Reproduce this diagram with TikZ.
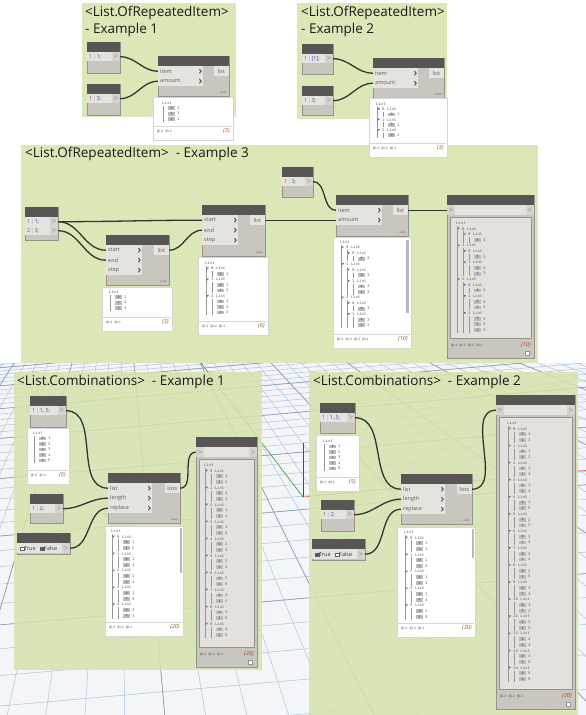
\documentclass[tikz,border=0pt]{standalone}
\usepackage{fontspec}
\setmainfont{Open Sans}
\newfontfamily\pvfont{Liberation Mono}
\usetikzlibrary{arrows,positioning,calc}

\definecolor{headgray}{RGB}{88,86,84}
\definecolor{bodygray}{RGB}{201,197,191}
\definecolor{rowgray}{RGB}{229,227,223}
\definecolor{portgray}{RGB}{214,211,206}
\definecolor{edgegray}{RGB}{150,146,140}
\definecolor{wirecol}{RGB}{52,52,52}
\definecolor{groupgreen}{RGB}{214,227,172}
\definecolor{titlecol}{RGB}{25,25,25}
\definecolor{floorcol}{RGB}{243,245,248}
\definecolor{gridblue}{RGB}{172,198,220}
\definecolor{gridmajor}{RGB}{135,155,178}
\definecolor{pvborder}{RGB}{214,214,214}
\definecolor{idxgray}{RGB}{188,188,188}
\definecolor{txtgray}{RGB}{95,95,95}
\definecolor{darktxt}{RGB}{60,60,60}
\definecolor{pvguidecol}{RGB}{150,150,150}
\definecolor{listblue}{RGB}{70,120,190}
\definecolor{codeblue}{RGB}{40,90,190}
\definecolor{numgray}{RGB}{110,110,110}
\definecolor{sepgray}{RGB}{170,170,170}
\definecolor{countbrown}{RGB}{150,85,40}
\definecolor{watchcol}{RGB}{228,225,220}
\definecolor{scrollgray}{RGB}{185,185,185}
\definecolor{axisred}{RGB}{230,110,80}
\definecolor{axisgreen}{RGB}{70,160,60}
\definecolor{axisblue}{RGB}{60,60,220}

% code line: number | code
\newcommand{\cl}[2]{{\color{numgray}#1}\hspace{0.6pt}{\color{sepgray}|}\hspace{0.6pt}{\color{codeblue}#2}}

% code block: name, x, y, width, height, lines
\newcommand{\codeblock}[6]{%
  \node[dbody, minimum width=#4, minimum height=#5] (#1) at (#2,#3) {};
  \node[dhead, minimum width=#4] (#1-h) at (#2,#3) {};
  \foreach \c [count=\i] in {#6}{
    \node[coderow, minimum width=#4-8] (#1-\i) at (#2,{#3+1+9*\i}) {};
    \node[codetxt] (#1-\i t) at ([xshift=2]#1-\i.west) {\c};
    \node[portbox] (#1-\i o) at ({#2+#4},{#3+1+9*\i}) {$>$};
  }}

% function node: name, x, y, width, height, row width, inputs, output
\newcommand{\funcnode}[8]{%
  \node[dbody, minimum width=#4, minimum height=#5] (#1) at (#2,#3) {};
  \node[dhead, minimum width=#4] (#1-h) at (#2,#3) {};
  \foreach \p [count=\i] in {#7}{
    \node[inrow, minimum width=#6] (#1-\i) at (#2,{#3+10*\i}) {};
    \node[intxt] (#1-\i t) at ([xshift=2]#1-\i.west) {\p};
    \draw[chev] ([xshift=-4,yshift=2]#1-\i.east) -- ++(1.8,2) -- ++(-1.8,2);
  }
  \node[outrow] (#1-o) at ({#2+#4},{#3+10}) {#8};
  \node[autotxt] (#1-a) at ({#2+#4-2},{#3+#5-2}) {auto};}

% boolean: name, x, y, fill of True, fill of False
\newcommand{\boolnode}[5]{%
  \node[dbody, minimum width=53, minimum height=21] (#1) at (#2,#3) {};
  \node[dhead, minimum width=53] (#1-h) at (#2,#3) {};
  \node[coderow, minimum width=45, minimum height=10] (#1-r) at (#2,{#3+10}) {};
  \node[radio, fill=#4] (#1-rt) at ({#2+5},{#3+15.5}) {};
  \node[intxt, text=darktxt] (#1-t) at ({#2+7},{#3+15.5}) {True};
  \node[radio, fill=#5] (#1-rf) at ({#2+25},{#3+15.5}) {};
  \node[intxt, text=darktxt] (#1-f) at ({#2+27},{#3+15.5}) {False};
  \node[portbox, minimum height=10] (#1-o) at ({#2+53},{#3+10}) {$>$};}

% watch: name, x, y, width, height, levels, count
\newcommand{\watchnode}[7]{%
  \node[dbody, minimum width=#4, minimum height=#5] (#1) at (#2,#3) {};
  \node[dhead, minimum width=#4] (#1-h) at (#2,#3) {};
  \node[coderow, minimum width=#4, minimum height=10] (#1-r) at (#2,{#3+10}) {};
  \node[portbox, anchor=north west, minimum height=10] (#1-i) at (#2,{#3+10}) {$>$};
  \node[portbox, minimum height=10] (#1-o) at ({#2+#4},{#3+10}) {$>$};
  \node[watchin, minimum width=#4-6, minimum height=#5-42] (#1-c) at ({#2+3},{#3+22}) {};
  \node[foottxt] (#1-f) at ({#2+4},{#3+#5-13}) {#6};
  \node[counttxt] (#1-n) at ({#2+#4-3},{#3+#5-13}) {#7};
  \node[cornersq] (#1-s) at ({#2+#4-7},{#3+#5-5}) {};}

% preview bubble: name, x, y, width, height, levels, count
\newcommand{\pvbox}[7]{%
  \node[pvbg, minimum width=#4, minimum height=#5] (#1) at (#2,#3) {};
  \draw[pvsep] ({#2+1},{#3+#5-14}) -- ({#2+#4-1},{#3+#5-14});
  \node[foottxt] (#1-f) at ({#2+4},{#3+#5-9}) {#6};
  \node[counttxt] (#1-n) at ({#2+#4-3},{#3+#5-9}) {#7};}

% list rows
\newcount\pvrow
\newcommand{\pvstart}[4]{\gdef\pvname{#1}\gdef\pvx{#2}\gdef\pvy{#3}\gdef\pvdy{#4}\global\pvrow=0\relax}
\newcommand{\pvguide}[1]{\ifnum#1>0 \foreach \k in {1,...,#1}{\draw[pvline] ({\pvx+(\k-1)*6+1},{\pvy+(\the\pvrow-0.5)*\pvdy}) -- ++(0,\pvdy);}\fi}
\newcommand{\pvroot}{\node[pvtxt] (\pvname-0) at (\pvx,\pvy) {List};\global\pvrow=1\relax}
\newcommand{\pvL}[2]{\pvguide{#1}%
  \fill[listblue] ({\pvx+#1*6-4.5},{\pvy+\the\pvrow*\pvdy-1}) -- ++(2.4,0) -- ++(-1.2,2) -- cycle;
  \node[pvtxt] (\pvname-\the\pvrow) at ({\pvx+#1*6},{\pvy+\the\pvrow*\pvdy}) {#2 List};%
  \global\advance\pvrow by 1\relax}
\newcommand{\pvV}[3]{\pvguide{#1}%
  \node[pvidx] (\pvname-\the\pvrow) at ({\pvx+#1*6},{\pvy+\the\pvrow*\pvdy}) {#2};
  \node[pvtxt] (\pvname-\the\pvrow v) at ({\pvx+#1*6+9},{\pvy+\the\pvrow*\pvdy}) {#3};%
  \global\advance\pvrow by 1\relax}

\begin{document}
\begin{tikzpicture}[x=1pt,y=-1pt,
  group/.style={fill=groupgreen, fill opacity=0.85, anchor=north west, inner sep=0},
  gtitle/.style={anchor=north west, inner sep=0, align=left, text=titlecol, font=\fontsize{13.5}{17}\selectfont},
  dbody/.style={fill=bodygray, draw=edgegray, line width=0.5pt, anchor=north west, inner sep=0},
  dhead/.style={fill=headgray, anchor=north west, inner sep=0, minimum height=10},
  coderow/.style={fill=rowgray, anchor=north west, inner sep=0, minimum height=9},
  inrow/.style={fill=rowgray, anchor=north west, inner sep=0, minimum height=10},
  portbox/.style={fill=portgray, anchor=north east, inner sep=0, minimum width=8, minimum height=9, text=txtgray, font=\fontsize{5}{5}\selectfont},
  codetxt/.style={anchor=west, inner sep=0, font=\fontsize{5.5}{6}\selectfont},
  intxt/.style={anchor=west, inner sep=0, text=txtgray, font=\fontsize{5.5}{6}\selectfont},
  outrow/.style={fill=rowgray, anchor=north east, inner sep=0, minimum width=15, minimum height=10, text=txtgray, font=\fontsize{5.5}{6}\selectfont},
  autotxt/.style={anchor=south east, inner sep=0, text=txtgray, font=\fontsize{3}{3}\selectfont},
  chev/.style={draw=headgray, line width=1pt},
  wire/.style={draw=wirecol, line width=1.3pt},
  pvbg/.style={fill=white, draw=pvborder, line width=0.5pt, anchor=north west, inner sep=0},
  pvsep/.style={draw=pvborder, line width=0.5pt},
  pvtxt/.style={anchor=west, inner sep=0, text=txtgray, font=\pvfont\fontsize{4}{4}\selectfont},
  pvidx/.style={anchor=west, inner sep=0.2, fill=idxgray, minimum width=7, minimum height=3.8, text=darktxt, font=\pvfont\fontsize{3.5}{3.5}\selectfont},
  pvline/.style={draw=pvguidecol, line width=0.5pt},
  foottxt/.style={anchor=west, inner sep=0, text=txtgray, font=\pvfont\fontsize{3.5}{4}\selectfont},
  counttxt/.style={anchor=east, inner sep=0, text=countbrown, font=\fontsize{5.5}{6}\selectfont\itshape},
  watchin/.style={fill=watchcol, draw=edgegray, line width=0.3pt, anchor=north west, inner sep=0},
  cornersq/.style={fill=white, draw=edgegray, line width=0.3pt, minimum size=4, inner sep=0},
  radio/.style={draw=txtgray, line width=0.3pt, minimum size=3.5, inner sep=0},
  scrollbar/.style={fill=scrollgray},
  gridln/.style={draw=gridblue, line width=0.5pt},
  gridmaj/.style={draw=gridmajor, line width=0.6pt}]
\useasboundingbox (0,0) rectangle (586,715);
\fill[white] (0,0) rectangle (586,715);

% floor grid
\begin{scope}
\clip (0,363) rectangle (586,715);
\fill[floorcol] (0,363) rectangle (586,715);
\begin{scope}[rotate around={5:(300,540)}]
\foreach \q in {11,12.325,...,95}
  \draw[gridln] (-300,{186+10000/\q}) -- (900,{186+10000/\q});
\foreach \k in {-30,...,50}
  \draw[gridln] ({150+\k*8.9},300) -- ({150+\k*63.5},1000);
\foreach \q in {11,17.625,...,95}
  \draw[gridmaj] (-300,{186+10000/\q}) -- (900,{186+10000/\q});
\foreach \k in {-30,-25,...,50}
  \draw[gridmaj] ({150+\k*8.9},300) -- ({150+\k*63.5},1000);
\end{scope}
\draw[axisgreen, line width=0.7pt] (303,497) -- (201,363);
\draw[axisred, line width=0.7pt] (303,497) -- (590,470);
\draw[axisblue, line width=0.7pt] (303,497) -- (303,443);
\end{scope}

% groups
\node[group, minimum width=154, minimum height=114] (g1) at (82,3) {};
\node[group, minimum width=150, minimum height=116] (g2) at (297,3) {};
\node[group, minimum width=517, minimum height=218] (g3) at (21,145) {};
\node[group, minimum width=248, minimum height=298] (g4) at (14,372) {};
\node[group, minimum width=269, minimum height=343] (g5) at (309,372) {};
\node[gtitle] (g1-t) at (85,6) {<List.OfRepeatedItem>\\- Example 1};
\node[gtitle] (g2-t) at (301,6) {<List.OfRepeatedItem>\\- Example 2};
\node[gtitle, anchor=base west] (g3-t) at (25,157) {<List.OfRepeatedItem>\ \ - Example 3};
\node[gtitle, anchor=base west] (g4-t) at (17,385) {<List.Combinations>\ \ - Example 1};
\node[gtitle, anchor=base west] (g5-t) at (313,385) {<List.Combinations>\ \ - Example 2};

% Example 1
\codeblock{a1}{87}{42}{33}{31}{{\cl{1}{1;}}}
\codeblock{a2}{87}{84}{33}{31}{{\cl{1}{3;}}}
\funcnode{ra}{158}{56}{71}{40}{45}{item,amount}{list}
\pvbox{pa}{153}{97}{80}{43}{@L2 @L1}{\{3\}}
\pvstart{pa}{162}{103}{5.3}\pvroot
\pvV{1}{0}{1}\pvV{1}{1}{1}\pvV{1}{2}{1}
\draw[wire] (a1-1o.east) to[out=0,in=180] (ra-1.west);
\draw[wire] (a2-1o.east) to[out=0,in=180] (ra-2.west);

% Example 2
\codeblock{b1}{302}{44}{31}{30}{{\cl{1}{[1];}}}
\codeblock{b2}{302}{86}{31}{29}{{\cl{1}{3;}}}
\funcnode{rb}{373}{58}{71}{40}{45}{item,amount}{list}
\pvbox{pb}{369}{98}{78}{59}{@L3 @L2 @L1}{\{3\}}
\pvstart{pb}{376}{104}{5.2}\pvroot
\pvL{1}{0}\pvV{2}{0}{1}\pvL{1}{1}\pvV{2}{0}{1}\pvL{1}{2}\pvV{2}{0}{1}
\draw[wire] (b1-1o.east) to[out=0,in=180] (rb-1.west);
\draw[wire] (b2-1o.east) to[out=0,in=180] (rb-2.west);

% Example 3
\codeblock{c1}{25}{207}{33}{33}{{\cl{1}{1;}},{\cl{2}{3;}}}
\funcnode{rg1}{106}{235}{63}{50}{36}{start,end,step}{list}
\pvbox{pc1}{102}{287}{70}{44}{@L2 @L1}{\{3\}}
\pvstart{pc1}{109}{292}{5.3}\pvroot
\pvV{1}{0}{1}\pvV{1}{1}{2}\pvV{1}{2}{3}
\funcnode{rg2}{202}{205}{63}{51}{36}{start,end,step}{list}
\pvbox{pc2}{198}{257}{70}{78}{@L3 @L2 @L1}{\{6\}}
\pvstart{pc2}{205}{263}{5.5}\pvroot
\pvL{1}{0}\pvV{2}{0}{1}
\pvL{1}{1}\pvV{2}{0}{1}\pvV{2}{1}{2}
\pvL{1}{2}\pvV{2}{0}{1}\pvV{2}{1}{2}\pvV{2}{2}{3}
\codeblock{c2}{282}{167}{31}{30}{{\cl{1}{3;}}}
\funcnode{rc}{336}{195}{72}{41}{46}{item,amount}{list}
\pvbox{pc3}{333}{237}{78}{111}{@L4 @L3 @L2 @L1}{\{10\}}
\fill[scrollbar] (406,240) rectangle (408.5,313);
\pvstart{pc3}{340}{242}{5.55}\pvroot
\pvL{1}{0}\pvL{2}{0}\pvV{3}{0}{3}
\pvL{1}{1}\pvL{2}{0}\pvV{3}{0}{3}\pvL{2}{1}\pvV{3}{0}{3}\pvV{3}{1}{3}
\pvL{1}{2}\pvL{2}{0}\pvV{3}{0}{3}\pvL{2}{1}\pvV{3}{0}{3}\pvV{3}{1}{3}
\watchnode{wc}{447}{195}{87}{163}{@L4 @L3 @L2 @L1}{\{10\}}
\pvstart{wc}{456}{223}{5.63}\pvroot
\pvL{1}{0}\pvL{2}{0}\pvV{3}{0}{3}
\pvL{1}{1}\pvL{2}{0}\pvV{3}{0}{3}\pvL{2}{1}\pvV{3}{0}{3}\pvV{3}{1}{3}
\pvL{1}{2}\pvL{2}{0}\pvV{3}{0}{3}\pvL{2}{1}\pvV{3}{0}{3}\pvV{3}{1}{3}
\pvL{2}{2}\pvV{3}{0}{3}\pvV{3}{1}{3}\pvV{3}{2}{3}
\draw[wire] (c1-1o.east) to[out=0,in=180] (rg2-1.west);
\draw[wire] (c1-1o.east) to[out=0,in=180] (rg1-1.west);
\draw[wire] (c1-2o.east) to[out=0,in=180] (rg1-2.west);
\draw[wire] (rg1-o.east) to[out=0,in=180] (rg2-2.west);
\draw[wire] (rg2-o.east) to[out=0,in=180] (rc-2.west);
\draw[wire] (c2-1o.east) to[out=0,in=180] (rc-1.west);
\draw[wire] (rc-o.east) to[out=0,in=180] (wc-i.west);

% Combinations 1
\codeblock{d1}{30}{396}{36}{31}{{\cl{1}{1..5;}}}
\pvbox{pd1}{27}{428}{42}{56}{@L2 @L1}{\{5\}}
\pvstart{pd1}{33}{433}{5.5}\pvroot
\foreach \v [count=\n from 0] in {1,...,5}{\pvV{1}{\n}{\v}}
\codeblock{d2}{30}{494}{33}{29}{{\cl{1}{2;}}}
\boolnode{d3}{17}{533}{white}{headgray}
\funcnode{cm1}{108}{473}{72}{50}{44}{list,length,replace}{lists}
\pvbox{pd2}{105}{526}{78}{110}{@L3 @L2 @L1}{\{20\}}
\fill[scrollbar] (179.5,528) rectangle (181.5,573);
\pvstart{pd2}{111}{531}{5.65}\pvroot
\foreach \a/\b [count=\n from 0] in {1/2,1/3,1/4,1/5,2/3}{\pvL{1}{\n}\pvV{2}{0}{\a}\pvV{2}{1}{\b}}
\watchnode{wd}{196}{437}{61}{230}{@L3 @L2 @L1}{\{20\}}
\pvstart{wd}{204}{465}{5.67}\pvroot
\foreach \a/\b [count=\n from 0] in {1/2,1/3,1/4,1/5,2/3,2/4,2/5,3/4,3/5,4/5}{\pvL{1}{\n}\pvV{2}{0}{\a}\pvV{2}{1}{\b}}
\draw[wire] (d1-1o.east) to[out=0,in=180] (cm1-1.west);
\draw[wire] (d2-1o.east) to[out=0,in=180] (cm1-2.west);
\draw[wire] (d3-o.east) to[out=0,in=180] (cm1-3.west);
\draw[wire] (cm1-o.east) to[out=0,in=180] (wd-i.west);

% Combinations 2
\codeblock{e1}{320}{403}{35}{30}{{\cl{1}{1..5;}}}
\pvbox{pe1}{316}{435}{43}{56}{@L2 @L1}{\{5\}}
\pvstart{pe1}{323}{441}{5.5}\pvroot
\foreach \v [count=\n from 0] in {1,...,5}{\pvV{1}{\n}{\v}}
\codeblock{e2}{321}{500}{33}{31}{{\cl{1}{2;}}}
\boolnode{e3}{312}{539}{headgray}{white}
\funcnode{cm2}{401}{474}{71}{50}{44}{list,length,replace}{lists}
\pvbox{pe2}{397}{527}{78}{110}{@L3 @L2 @L1}{\{30\}}
\fill[scrollbar] (471.5,529) rectangle (473.5,558);
\pvstart{pe2}{404}{532}{5.65}\pvroot
\foreach \a/\b [count=\n from 0] in {1/1,1/2,1/3,1/4,1/5}{\pvL{1}{\n}\pvV{2}{0}{\a}\pvV{2}{1}{\b}}
\watchnode{we}{496}{395}{79}{314}{@L3 @L2 @L1}{\{30\}}
\pvstart{we}{507}{423}{5.69}\pvroot
\foreach \a/\b [count=\n from 0] in {1/1,1/2,1/3,1/4,1/5,2/2,2/3,2/4,2/5,3/3,3/4,3/5,4/4,4/5,5/5}{\pvL{1}{\n}\pvV{2}{0}{\a}\pvV{2}{1}{\b}}
\draw[wire] (e1-1o.east) to[out=0,in=180] (cm2-1.west);
\draw[wire] (e2-1o.east) to[out=0,in=180] (cm2-2.west);
\draw[wire] (e3-o.east) to[out=0,in=180] (cm2-3.west);
\draw[wire] (cm2-o.east) to[out=0,in=180] (we-i.west);
\end{tikzpicture}
\end{document}
